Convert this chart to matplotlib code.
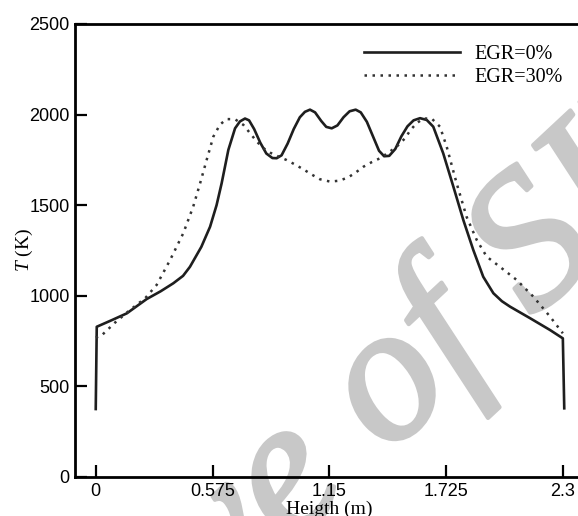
import matplotlib
matplotlib.use("Agg")
import matplotlib.pyplot as plt
import matplotlib.patheffects as pe

plt.rcParams['mathtext.fontset'] = 'custom'
plt.rcParams['mathtext.rm'] = 'Liberation Serif'
plt.rcParams['mathtext.it'] = 'Liberation Serif:italic'

# temperature profiles along the height
h_egr0 = [0.0, 0.005, 0.08, 0.153, 0.251, 0.32, 0.382, 0.43, 0.464, 0.52,
          0.563, 0.595, 0.62, 0.653, 0.686, 0.71, 0.735, 0.755, 0.78, 0.81,
          0.84, 0.87, 0.891, 0.915, 0.945, 0.975, 1.005, 1.03, 1.055, 1.08,
          1.11, 1.135, 1.162, 1.19, 1.22, 1.25, 1.28, 1.305, 1.335, 1.365,
          1.395, 1.42, 1.445, 1.475, 1.505, 1.535, 1.565, 1.597, 1.63, 1.662,
          1.711, 1.761, 1.81, 1.859, 1.908, 1.958, 2.0, 2.04, 2.139, 2.237,
          2.3, 2.307]
t_egr0 = [375, 829, 866, 903, 982, 1025, 1069, 1110, 1160, 1270,
          1381, 1500, 1621, 1805, 1924, 1962, 1978, 1968, 1920, 1845,
          1785, 1760, 1759, 1775, 1840, 1920, 1985, 2015, 2027, 2012,
          1965, 1932, 1924, 1940, 1985, 2018, 2027, 2012, 1960, 1880,
          1800, 1770, 1772, 1810, 1880, 1935, 1968, 1980, 1970, 1933,
          1786, 1602, 1418, 1253, 1105, 1014, 970, 940, 876, 811,
          765, 379]

h_egr30 = [0.0, 0.026, 0.095, 0.169, 0.243, 0.30, 0.366, 0.431, 0.48, 0.514,
           0.546, 0.579, 0.612, 0.645, 0.686, 0.727, 0.76, 0.793, 0.825, 0.858,
           0.90, 0.94, 0.98, 1.022, 1.065, 1.104, 1.154, 1.2, 1.244, 1.28,
           1.318, 1.36, 1.40, 1.441, 1.482, 1.523, 1.55, 1.58, 1.613, 1.654,
           1.695, 1.728, 1.777, 1.826, 1.876, 1.925, 1.99, 2.073, 2.155, 2.237,
           2.3]
t_egr30 = [770, 778, 852, 922, 986, 1060, 1197, 1345, 1492, 1621,
           1749, 1878, 1945, 1975, 1974, 1943, 1897, 1851, 1815, 1790,
           1768, 1749, 1725, 1698, 1668, 1643, 1630, 1635, 1654, 1680,
           1712, 1738, 1759, 1790, 1823, 1869, 1915, 1952, 1978, 1978,
           1933, 1823, 1621, 1436, 1308, 1216, 1160, 1087, 995, 885,
           793]

xticks = [0, 0.575, 1.15, 1.725, 2.3]
xticklabels = ['0', '0.575', '1.15', '1.725', '2.3']
yticks = [0, 500, 1000, 1500, 2000, 2500]

fig = plt.figure(figsize=(5.78, 5.16), dpi=100)
ax = fig.add_axes([0.1305, 0.0756, 0.8784, 0.878])
ax.patch.set_alpha(0)

# grey stamp behind the axes
fig.text(0.523, 0.09, 'Archive of SID', family='Liberation Serif',
         style='italic', size=140, color='#c8c8c8',
         rotation=43, ha='center', va='center', rotation_mode='anchor',
         zorder=-1,
         path_effects=[pe.withStroke(linewidth=3, foreground='#c8c8c8')])

ax.plot(h_egr0, t_egr0, color='#1e1e1e', lw=1.9, label='EGR=0%')
ax.plot(h_egr30, t_egr30, color='#333333', lw=1.8, ls=(0, (1, 2.2)),
        label='EGR=30%')

ax.set_xlim(-0.1, 2.4)
ax.set_ylim(0, 2500)
ax.set_xticks(xticks)
ax.set_xticklabels(xticklabels)
ax.set_yticks(yticks)
for s in ['left', 'bottom', 'top', 'right']:
    ax.spines[s].set_linewidth(2.0)
ax.tick_params(direction='in', length=8.5, width=1.6, labelsize=13,
               top=False, right=False, pad=4)
for lab in ax.get_xticklabels() + ax.get_yticklabels():
    lab.set_family('Liberation Sans')

ax.set_xlabel('Heigth (m)', family='Liberation Serif', size=14, labelpad=1)
ax.set_ylabel(r'$T$ (K)', family='Liberation Serif', size=14, labelpad=-4)

ax.legend(loc='upper left', bbox_to_anchor=(0.56, 0.962), frameon=False,
          prop={'family': 'Liberation Serif', 'size': 14.5},
          handlelength=4.8, handletextpad=0.7, labelspacing=0.2,
          borderaxespad=0, borderpad=0.2)

fig.savefig('out.png', dpi=100)
